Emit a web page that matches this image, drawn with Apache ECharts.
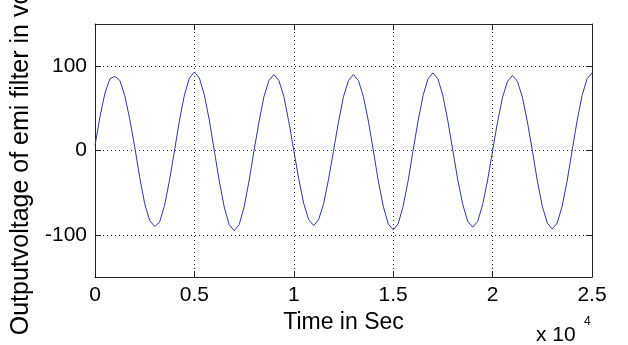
<!DOCTYPE html>
<html>
<head>
<meta charset="utf-8">
<script src="https://cdn.jsdelivr.net/npm/echarts@6/dist/echarts.min.js"></script>
<style>
  html, body { margin: 0; padding: 0; background: #fff; }
  #chart { width: 628px; height: 345px; }
</style>
</head>
<body>
<div id="chart"></div>
<script>
// time samples (sec)
const timeSec = [
  0, 250, 500, 750, 1000, 1250, 1500, 1750, 2000, 2250, 2500, 2750, 3000, 3250, 3500, 3750,
  4000, 4250, 4500, 4750, 5000, 5250, 5500, 5750, 6000, 6250, 6500, 6750, 7000, 7250, 7500, 7750,
  8000, 8250, 8500, 8750, 9000, 9250, 9500, 9750, 10000, 10250, 10500, 10750, 11000, 11250, 11500, 11750,
  12000, 12250, 12500, 12750, 13000, 13250, 13500, 13750, 14000, 14250, 14500, 14750, 15000, 15250, 15500, 15750,
  16000, 16250, 16500, 16750, 17000, 17250, 17500, 17750, 18000, 18250, 18500, 18750, 19000, 19250, 19500, 19750,
  20000, 20250, 20500, 20750, 21000, 21250, 21500, 21750, 22000, 22250, 22500, 22750, 23000, 23250, 23500, 23750,
  24000, 24250, 24500, 24750, 25000
]
// output voltage of the emi filter
const outVolt = [
  6, 40, 68, 85, 88, 83, 65, 37, 4, -32, -63, -83, -90, -85, -65, -35,
  0, 36, 66, 86, 93, 86, 66, 36, 0, -36, -67, -88, -95, -88, -67, -36,
  0, 34, 64, 83, 90, 83, 64, 34, 0, -34, -63, -82, -89, -82, -63, -34,
  0, 34, 64, 83, 90, 83, 64, 35, 0, -36, -66, -87, -94, -87, -66, -36,
  0, 35, 65, 85, 92, 85, 65, 35, 0, -35, -64, -84, -91, -84, -64, -35,
  0, 34, 63, 82, 89, 82, 63, 34, 0, -36, -66, -86, -93, -86, -66, -36,
  0, 35, 65, 85, 92
]
const yTicks = [-100, 0, 100]

const font = 'Liberation Sans, Arial, sans-serif'
const gridLine = { show: true, lineStyle: { color: '#222', width: 1, type: [1, 3] } }
const boxLine = { show: true, onZero: false, lineStyle: { color: '#222', width: 1 } }

const chart = echarts.init(document.getElementById('chart'), null, { renderer: 'canvas' })

const option = {
  animation: false,
  backgroundColor: '#fff',
  grid: { left: 95, right: 36, top: 24, bottom: 68, containLabel: false, outerBoundsMode: 'none' },
  xAxis: [
    {
      type: 'value',
      min: 0,
      max: 25000,
      interval: 5000,
      name: 'Time in Sec',
      nameLocation: 'middle',
      nameGap: 31,
      nameTextStyle: { fontFamily: font, fontSize: 23, color: '#000' },
      axisLine: boxLine,
      axisTick: { show: true, inside: true, length: 6, lineStyle: { color: '#222' } },
      axisLabel: {
        fontFamily: font, fontSize: 21, color: '#000', margin: 8,
        formatter: v => String(v / 10000)
      },
      splitLine: gridLine
    },
    {
      type: 'value',
      position: 'top',
      min: 0,
      max: 25000,
      interval: 5000,
      axisLine: boxLine,
      axisTick: { show: true, inside: true, length: 6, lineStyle: { color: '#222' } },
      axisLabel: { show: false },
      splitLine: { show: false }
    }
  ],
  yAxis: [
    {
      type: 'value',
      min: -150,
      max: 150,
      name: 'Outputvoltage of emi filter in volts',
      nameLocation: 'middle',
      nameGap: 61,
      nameTextStyle: { fontFamily: font, fontSize: 25, color: '#000' },
      axisLine: boxLine,
      axisTick: { show: true, inside: true, length: 6, customValues: yTicks, lineStyle: { color: '#222' } },
      axisLabel: { fontFamily: font, fontSize: 21, color: '#000', margin: 8, customValues: yTicks },
      splitLine: gridLine
    },
    {
      type: 'value',
      position: 'right',
      min: -150,
      max: 150,
      axisLine: boxLine,
      axisTick: { show: true, inside: true, length: 6, customValues: yTicks, lineStyle: { color: '#222' } },
      axisLabel: { show: false, customValues: yTicks },
      splitLine: { show: false }
    }
  ],
  graphic: [
    { type: 'text', left: 536, top: 325, style: { text: 'x 10', font: '21px ' + font, fill: '#000' } },
    { type: 'text', left: 584, top: 316, style: { text: '4', font: '12px ' + font, fill: '#000' } }
  ],
  series: [
    {
      type: 'line',
      xAxisIndex: 0,
      yAxisIndex: 0,
      showSymbol: false,
      smooth: false,
      lineStyle: { color: '#2d38a0', width: 1 },
      data: timeSec.map((t, i) => [t, outVolt[i]])
    }
  ]
}

chart.setOption(option)
</script>
</body>
</html>
